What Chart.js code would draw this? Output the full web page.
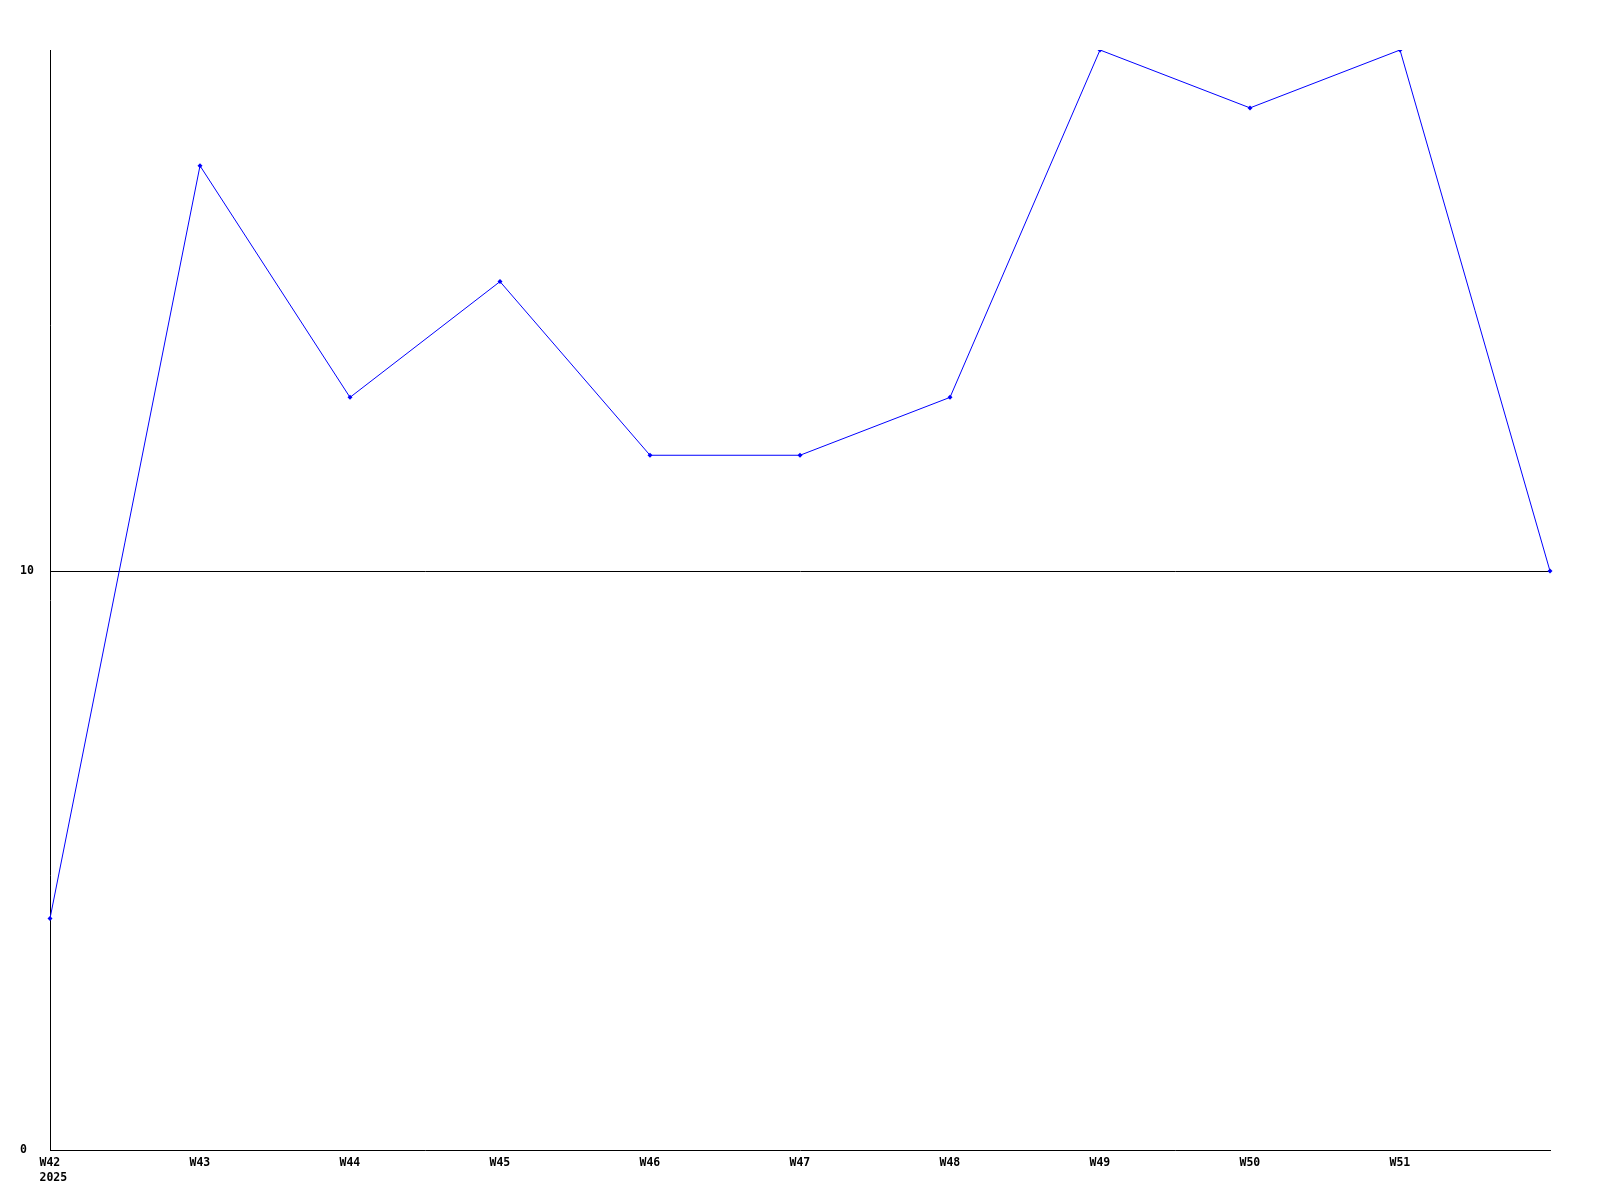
<!DOCTYPE html>
<html>
<head>
<meta charset="utf-8">
<script src="https://cdn.jsdelivr.net/npm/chart.js@4"></script>
<style>
  html, body { margin: 0; padding: 0; background: #fff; }
  #wrap { width: 1600px; height: 1200px; }
</style>
</head>
<body>
<div id="wrap"><canvas id="myChart" width="1600" height="1200"></canvas></div>
<script>
// semanas (a última não tem rótulo)
const semanas = [['W42', '2025'], 'W43', 'W44', 'W45', 'W46', 'W47', 'W48', 'W49', 'W50', 'W51', ''];
const valores = [4, 17, 13, 15, 12, 12, 13, 19, 18, 19, 10];
const ticksY = [0, 10];
const maxY = 19;

const fonte = { family: '"DejaVu Sans Mono", "Liberation Mono", monospace', size: 11.5, weight: 'bold', lineHeight: 1.3 };

const ctx = document.getElementById('myChart').getContext('2d');
const chart = new Chart(ctx, {
  type: 'line',
  data: {
    labels: semanas,
    datasets: [{
      data: valores,
      borderColor: '#0000ff',
      backgroundColor: '#0000ff',
      borderWidth: 1,
      tension: 0,
      pointStyle: 'rectRot',
      pointRadius: 2.5,
      pointBorderWidth: 0,
      fill: false
    }]
  },
  options: {
    responsive: false,
    animation: false,
    layout: { padding: { top: 50, right: 50, left: 20, bottom: 0 } },
    plugins: { legend: { display: false }, tooltip: { enabled: false } },
    scales: {
      x: {
        type: 'category',
        offset: false,
        grid: { display: false, drawTicks: false },
        border: { display: true, color: '#000', width: 1 },
        ticks: { color: '#000', font: fonte, padding: 6, maxRotation: 0, autoSkip: false, align: 'start', labelOffset: -10.5 },
        afterFit: s => { s.height = 50; }
      },
      y: {
        min: 0,
        max: maxY,
        afterBuildTicks: s => { s.ticks = ticksY.map(v => ({ value: v })); },
        grid: {
          drawTicks: false,
          color: c => (c.tick && c.tick.value === 10 ? '#000' : 'rgba(0,0,0,0)'),
          lineWidth: 1
        },
        border: { display: true, color: '#000', width: 1 },
        ticks: { color: '#000', font: fonte, crossAlign: 'far', padding: 0 },
        afterFit: s => { s.width = 30; }
      }
    }
  }
});
</script>
</body>
</html>
